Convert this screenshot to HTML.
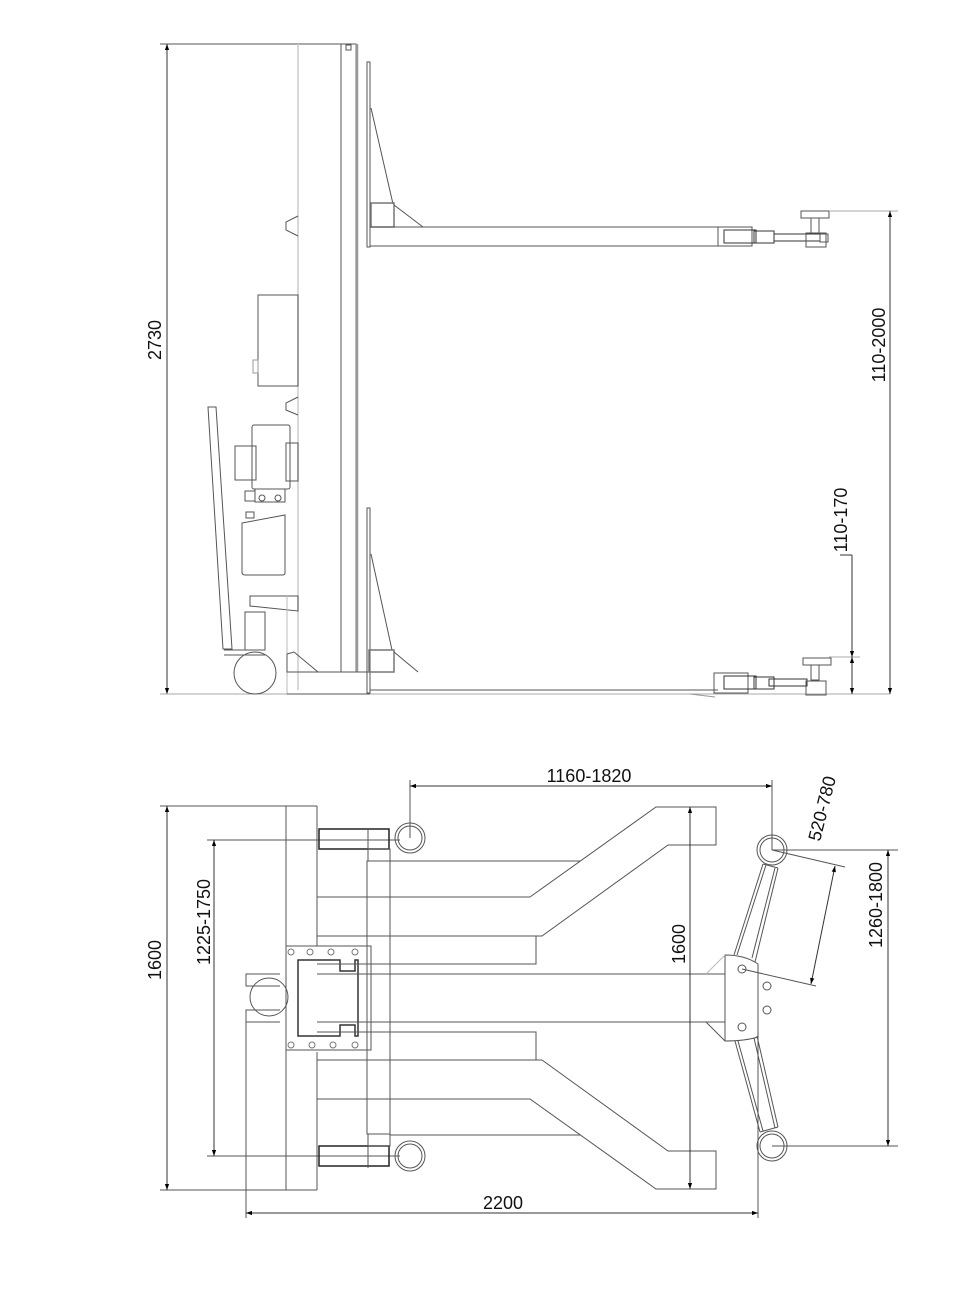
<!DOCTYPE html>
<html><head><meta charset="utf-8"><style>
html,body{margin:0;padding:0;background:#fff}
svg{display:block}
text{font-family:"Liberation Sans",sans-serif;font-size:18px;fill:#111}
</style></head><body>
<svg width="974" height="1299" viewBox="0 0 974 1299" xmlns="http://www.w3.org/2000/svg">
<defs>
<marker id="a" viewBox="0 0 10 10" refX="10" refY="5" markerWidth="9" markerHeight="6" orient="auto-start-reverse" markerUnits="userSpaceOnUse"><path d="M0,1.5 L10,5 L0,8.5Z" fill="#000"/></marker>
</defs>
<g fill="none" stroke="#555" stroke-width="1">
<!-- ===== TOP VIEW ===== -->
<line x1="160" y1="44" x2="345" y2="44"/>
<line x1="167" y1="44" x2="167" y2="694" stroke="#333" marker-start="url(#a)" marker-end="url(#a)"/>
<line x1="160" y1="694" x2="890" y2="694" stroke="#aaa"/>
<line x1="298" y1="44" x2="298" y2="690" stroke="#ccc" stroke-width="1.5"/>
<rect x="341" y="44" width="15" height="628"/>
<line x1="357" y1="44" x2="357" y2="672" stroke="#999" stroke-width="2.5"/>
<rect x="346" y="45" width="5" height="5"/>
<path d="M298,216 L286,222 L286,230 L298,236"/>
<path d="M298,397 L286,403 L286,410 L298,415"/>
<rect x="258" y="295" width="40" height="91"/>
<rect x="253" y="360" width="5" height="13" stroke="#999"/>
<path d="M208,407 L216,407 L232,649 L223,649Z"/>
<rect x="252" y="425" width="38" height="64" rx="2"/>
<rect x="235" y="446" width="21" height="34"/>
<rect x="286" y="443" width="12" height="38"/>
<rect x="255" y="489" width="30" height="13"/>
<circle cx="262" cy="498" r="3"/><circle cx="278" cy="498" r="3"/>
<rect x="245" y="491" width="10" height="10"/>
<rect x="246" y="512" width="8" height="6"/>
<path d="M242,523 L285,515 L285,573 Q285,575 282,575 L245,575 Q242,575 242,572Z"/>
<path d="M250,596 L298,596 L298,611 L250,606Z"/>
<rect x="245" y="612" width="20" height="38"/>
<line x1="224" y1="650" x2="265" y2="650"/>
<line x1="224" y1="655" x2="265" y2="655"/>
<circle cx="255" cy="673" r="21"/>
<line x1="287" y1="596" x2="287" y2="694" stroke="#bbb"/>
<path d="M287,654 L294,652 L318,672 L287,672Z"/>
<line x1="287" y1="672" x2="370" y2="672"/>
<line x1="287" y1="694" x2="370" y2="694"/>
<!-- upper arm -->
<rect x="367" y="62" width="3" height="185"/>
<line x1="371" y1="108" x2="393" y2="204"/>
<rect x="371" y="203" width="23" height="24" stroke="#777" stroke-width="1.5"/>
<line x1="394" y1="205" x2="423" y2="227"/>
<line x1="370" y1="227" x2="718" y2="227"/>
<line x1="370" y1="246" x2="718" y2="246"/>
<rect x="718" y="227" width="34" height="19"/>
<rect x="724" y="230" width="32" height="13" stroke="#333"/>
<rect x="754" y="231" width="20" height="12" stroke="#333"/>
<rect x="774" y="234" width="46" height="7" stroke="#333"/>
<rect x="820" y="234" width="8" height="8"/>
<rect x="806" y="233" width="20" height="14"/>
<rect x="801" y="211" width="28" height="7"/>
<rect x="811" y="218" width="8" height="15"/>
<line x1="829" y1="211" x2="898" y2="211" stroke="#aaa"/>
<line x1="890" y1="211" x2="890" y2="694" stroke="#333" marker-start="url(#a)" marker-end="url(#a)"/>
<!-- lower arm -->
<rect x="367" y="508" width="3" height="185"/>
<line x1="371" y1="554" x2="392" y2="650"/>
<rect x="369" y="650" width="25" height="22" stroke="#777" stroke-width="1.5"/>
<line x1="394" y1="652" x2="418" y2="672"/>
<line x1="370" y1="690" x2="718" y2="690"/>
<rect x="714" y="673" width="34" height="20"/>
<rect x="724" y="676" width="32" height="13" stroke="#333"/>
<rect x="754" y="677" width="20" height="12" stroke="#333"/>
<rect x="769" y="679" width="38" height="7" stroke="#333"/>
<rect x="806" y="681" width="20" height="14"/>
<rect x="803" y="658" width="28" height="7"/>
<rect x="811" y="665" width="8" height="15"/>
<line x1="690" y1="694" x2="715" y2="697" stroke="#999"/>
<line x1="829" y1="657" x2="860" y2="657" stroke="#aaa"/>
<line x1="852" y1="555" x2="852" y2="657" stroke="#333" marker-end="url(#a)"/>
<line x1="852" y1="657" x2="852" y2="694" stroke="#333" marker-start="url(#a)" marker-end="url(#a)"/>
<line x1="840" y1="555" x2="852" y2="555" stroke="#333"/>

<!-- ===== BOTTOM VIEW ===== -->
<line x1="160" y1="806" x2="317" y2="806"/>
<line x1="160" y1="1190" x2="317" y2="1190"/>
<line x1="167" y1="806" x2="167" y2="1190" stroke="#333" marker-start="url(#a)" marker-end="url(#a)"/>
<line x1="207" y1="840" x2="400" y2="840"/>
<line x1="207" y1="1156" x2="400" y2="1156"/>
<line x1="214" y1="840" x2="214" y2="1156" stroke="#333" marker-start="url(#a)" marker-end="url(#a)"/>
<line x1="286" y1="806" x2="286" y2="1190"/>
<line x1="317" y1="806" x2="317" y2="946"/>
<line x1="317" y1="1052" x2="317" y2="1190"/>
<rect x="319" y="829" width="70" height="20" stroke="#222" stroke-width="1.5"/>
<line x1="368" y1="829" x2="368" y2="860"/>
<rect x="368" y="849" width="22" height="12"/>
<circle cx="410" cy="838" r="15"/><circle cx="410" cy="838" r="12"/>
<rect x="319" y="1146" width="70" height="20" stroke="#222" stroke-width="1.5"/>
<line x1="368" y1="1134" x2="368" y2="1168"/>
<rect x="368" y="1134" width="22" height="12"/>
<circle cx="410" cy="1156" r="15"/><circle cx="410" cy="1156" r="12"/>
<rect x="367" y="861" width="23" height="273"/>
<rect x="286" y="946" width="85" height="104"/>
<path d="M298,960 L340,960 L340,971 L355,971 L355,960 L358,960 L358,1036 L355,1036 L355,1025 L340,1025 L340,1036 L298,1036Z" stroke="#333" stroke-width="1.5"/>
<g stroke="#777">
<circle cx="291" cy="952" r="3"/><circle cx="310" cy="952" r="3"/><circle cx="331" cy="952" r="3"/><circle cx="355" cy="952" r="3"/>
<circle cx="291" cy="1045" r="3"/><circle cx="312" cy="1045" r="3"/><circle cx="333" cy="1045" r="3"/><circle cx="355" cy="1045" r="3"/>
</g>
<circle cx="269" cy="997" r="19"/>
<path d="M280,974 L246,974 L246,986 L280,986"/>
<path d="M280,1022 L246,1022 L246,1010 L280,1010"/>
<line x1="246" y1="1022" x2="246" y2="1218"/>
<!-- forks -->
<line x1="390" y1="861" x2="580" y2="861"/>
<line x1="317" y1="897" x2="530" y2="897"/>
<path d="M530,897 L656,807 L716,807 L716,845 L668,845 L542,936 L536,936"/>
<line x1="317" y1="936" x2="536" y2="936"/>
<path d="M536,936 L536,964 L317,964"/>
<line x1="317" y1="974" x2="725" y2="974"/>
<line x1="317" y1="1022" x2="725" y2="1022"/>
<path d="M317,1032 L536,1032 L536,1060 L317,1060"/>
<line x1="536" y1="1060" x2="542" y2="1060"/>
<path d="M542,1060 L668,1151 L716,1151 L716,1189 L656,1189 L530,1099 L317,1099"/>
<line x1="390" y1="1135" x2="580" y2="1135"/>
<!-- head -->
<path d="M725,955 Q745,955 758,964 L758,1037 Q745,1041 725,1041Z"/>
<line x1="706" y1="974" x2="725" y2="955" stroke="#bbb"/>
<line x1="706" y1="1022" x2="725" y2="1041"/>
<circle cx="742" cy="969" r="4"/><circle cx="742" cy="1027" r="4"/>
<circle cx="767" cy="986" r="4"/><circle cx="767" cy="1010" r="4"/>
<!-- tilted bar -->
<circle cx="772" cy="850" r="15"/><circle cx="772" cy="850" r="12"/>
<circle cx="772" cy="1146" r="15"/><circle cx="772" cy="1146" r="12"/>
<line x1="763" y1="864" x2="778" y2="868"/>
<line x1="763" y1="864" x2="734" y2="955"/>
<line x1="766" y1="865" x2="737" y2="955"/>
<line x1="778" y1="868" x2="755" y2="962"/>
<line x1="775" y1="868" x2="752" y2="958"/>
<line x1="735" y1="1041" x2="760" y2="1132"/>
<line x1="738" y1="1041" x2="763" y2="1131"/>
<line x1="757" y1="1036" x2="778" y2="1127"/>
<line x1="754" y1="1038" x2="775" y2="1128"/>
<line x1="760" y1="1132" x2="778" y2="1127"/>
<line x1="758" y1="1036" x2="758" y2="1218"/>
<!-- 1160-1820 -->
<line x1="410" y1="780" x2="410" y2="838"/>
<line x1="772" y1="780" x2="772" y2="850"/>
<line x1="410" y1="786" x2="772" y2="786" stroke="#333" marker-start="url(#a)" marker-end="url(#a)"/>
<line x1="690" y1="807" x2="690" y2="1189" stroke="#333" marker-start="url(#a)" marker-end="url(#a)"/>
<line x1="246" y1="1213" x2="758" y2="1213" stroke="#333" marker-start="url(#a)" marker-end="url(#a)"/>
<line x1="772" y1="850" x2="898" y2="850"/>
<line x1="772" y1="1146" x2="898" y2="1146"/>
<line x1="888" y1="850" x2="888" y2="1146" stroke="#333" marker-start="url(#a)" marker-end="url(#a)"/>
<line x1="772" y1="850" x2="845" y2="867"/>
<line x1="742" y1="969" x2="816" y2="986"/>
<line x1="835" y1="866" x2="811" y2="984" stroke="#333" marker-start="url(#a)" marker-end="url(#a)"/>
</g>
<g>
<text transform="translate(161,340) rotate(-90)" text-anchor="middle">2730</text>
<text transform="translate(885,345) rotate(-90)" text-anchor="middle">110-2000</text>
<text transform="translate(847,520) rotate(-90)" text-anchor="middle">110-170</text>
<text transform="translate(161,960) rotate(-90)" text-anchor="middle">1600</text>
<text transform="translate(210,922) rotate(-90)" text-anchor="middle">1225-1750</text>
<text transform="translate(685,944) rotate(-90)" text-anchor="middle">1600</text>
<text x="589" y="782" text-anchor="middle">1160-1820</text>
<text x="503" y="1209" text-anchor="middle">2200</text>
<text transform="translate(882,905) rotate(-90)" text-anchor="middle">1260-1800</text>
<text transform="translate(828,810) rotate(-76)" text-anchor="middle">520-780</text>
</g>
</svg>
</body></html>
